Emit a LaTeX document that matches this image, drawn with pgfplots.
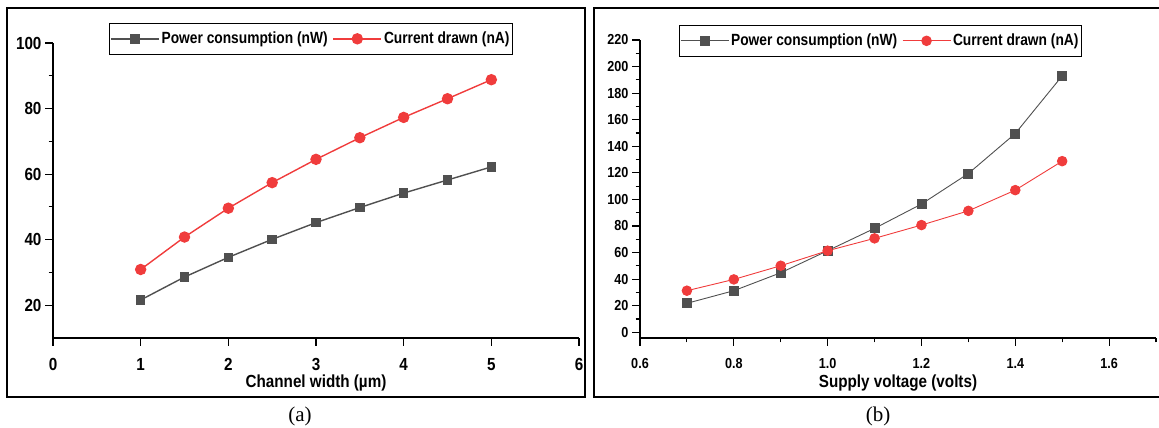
\documentclass[border=0pt]{standalone}
\usepackage{fontspec}
\setmainfont{Liberation Serif}
\newfontfamily\arl[FakeStretch=0.87]{Liberation Sans}
\newfontfamily\arln[FakeStretch=0.85]{Liberation Sans}
\usepackage{pgfplots}
\pgfplotsset{compat=1.18}
\definecolor{pgray}{RGB}{80,80,80}
\definecolor{pred}{RGB}{240,60,60}
\newcommand{\fs}[1]{\fontsize{#1}{#1}\selectfont}

\pgfplotsset{
  panel/.style={
    scale only axis, anchor=south west, clip=false,
    axis x line=bottom, axis y line=left,
    axis line style={-, line width=1.3pt},
    tick align=outside, major tick length=8pt, minor tick length=4.5pt,
    every tick/.style={black, line width=1.1pt},
    /pgf/number format/assume math mode=true,
    xticklabel style={yshift=-9pt},
    label style={font=\arl\bfseries\fs{17.5}},
    xlabel style={at={(axis description cs:0.5,0)}, anchor=center, yshift=-45pt},
    legend style={draw=black, font=\arln\bfseries\fs{16.2}, legend columns=2,
      inner ysep=7pt, inner xsep=1pt,
      anchor=north west, /tikz/every even column/.append style={column sep=3pt}},
    legend image code/.code={\draw[mark repeat=2, mark phase=2]
      plot coordinates {(0pt,0pt)(24pt,0pt)(48pt,0pt)};},
  }
}

\begin{document}
\begin{tikzpicture}
\useasboundingbox (0,0) rectangle (1159pt,428pt);
% panel frames
\draw[line width=2pt] (7pt,420pt) rectangle (585pt,31pt);
\draw[line width=2pt] (594pt,420pt) rectangle (1175pt,31pt);

% (a) channel width
\begin{axis}[panel, at={(53pt,90pt)}, width=526pt, height=295pt,
  xmin=0, xmax=6, ymin=10, ymax=100,
  xtick={0,1,...,6}, ytick={20,40,...,100}, minor ytick={30,50,70,90},
  ticklabel style={font=\arl\bfseries\fs{17.5}},
  xlabel={Channel width (µm)},
  legend style={at={(axis description cs:0.1065,1.0678)}},
]
\addplot[pgray, line width=1.4pt, mark=square*, mark size=4pt] coordinates {
  (1,21.6) (1.5,28.6) (2,34.6) (2.5,40.1) (3,45.2) (3.5,49.8) (4,54.2) (4.5,58.2) (5,62.2)};
\addplot[pred, line width=1.4pt, mark=*, mark size=5pt] coordinates {
  (1,30.9) (1.5,40.8) (2,49.6) (2.5,57.4) (3,64.5) (3.5,71.1) (4,77.3) (4.5,83.0) (5,88.8)};
\legend{Power consumption (nW), Current drawn (nA)}
\end{axis}

% (b) supply voltage
\begin{axis}[panel, at={(640pt,90pt)}, width=516pt, height=298pt,
  xmin=0.6, xmax=1.7, ymin=-4.3, ymax=220,
  xtick={0.6,0.8,...,1.6}, minor xtick={0.7,0.9,...,1.7},
  ytick={0,20,...,220}, minor ytick={10,30,...,210},
  ticklabel style={font=\arl\bfseries\fs{14.5}},
  xticklabel style={/pgf/number format/.cd, fixed, fixed zerofill, precision=1},
  xlabel={Supply voltage (volts)},
  legend style={at={(axis description cs:0.0756,1.0503)}},
]
\addplot[pgray, line width=0.9pt, mark=square*, mark size=4.5pt] coordinates {
  (0.7,21.8) (0.8,31.3) (0.9,44.8) (1.0,61.4) (1.1,78.2) (1.2,96.5) (1.3,119.5) (1.4,149.6) (1.5,193.0)};
\addplot[pred, line width=0.9pt, mark=*, mark size=4.8pt] coordinates {
  (0.7,31.3) (0.8,39.8) (0.9,50.1) (1.0,61.4) (1.1,70.7) (1.2,80.7) (1.3,91.4) (1.4,107.0) (1.5,128.8)};
\legend{Power consumption (nW), Current drawn (nA)}
\end{axis}

\node[font=\fs{21}] at (300pt,12pt) {(a)};
\node[font=\fs{21}] at (878pt,12pt) {(b)};
\end{tikzpicture}
\end{document}
